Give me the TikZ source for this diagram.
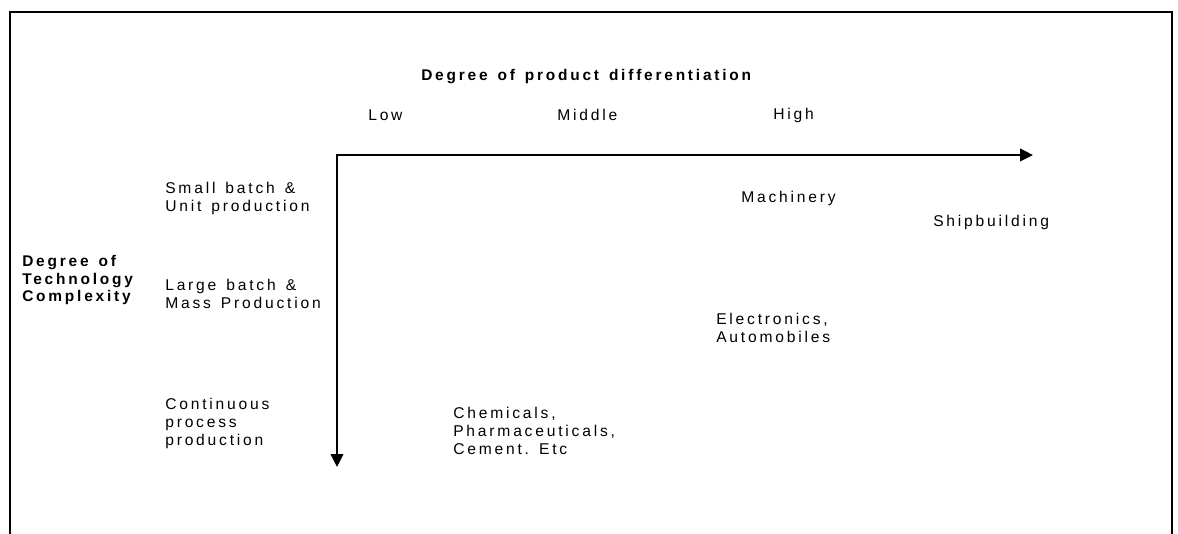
\documentclass[tikz,border=0pt]{standalone}
\usepackage{fontspec}
\setmainfont{Liberation Sans}
\newfontfamily\trackedfont[LetterSpace=18,WordSpace=1.4]{Liberation Sans}
\frenchspacing
\usetikzlibrary{arrows.meta}

\tikzset{
  lbl/.style={anchor=west,inner sep=0pt,align=left,font=\trackedfont\fontsize{11.7}{13.5}\selectfont},
  head/.style={anchor=west,inner sep=0pt,align=left,font=\trackedfont\bfseries\fontsize{11.6}{13.2}\selectfont},
  axis/.style={line width=1.3pt},
}

\begin{document}
\begin{tikzpicture}[x=0.75pt,y=-0.75pt,line cap=round,line join=round,>={Triangle[length=9.75pt,width=9.5pt]}]
    \useasboundingbox (0,0) rectangle (1178,533);
    % frame, open at the bottom
    \draw[line width=1.5pt,line cap=butt,line join=miter] (10,12) rectangle (1172,560);

    % axis titles and levels
    \node[head] (xtitle) at (421,77) {Degree of product differentiation};
    \node[lbl] (low) at (368,115) {Low};
    \node[lbl] (mid) at (557,115) {Middle};
    \node[lbl] (high) at (773,115) {High};
    \node[head] (ytitle) at (22,280) {Degree of\\Technology\\Complexity};
    \node[lbl] (small) at (165,198) {Small batch \&\\Unit production};
    \node[lbl] (large) at (165,294) {Large batch \&\\Mass Production};
    \node[lbl] (cont) at (165,423) {Continuous\\process\\production};

    % industries
    \node[lbl] (mach) at (741,198) {Machinery};
    \node[lbl] (ship) at (933,222) {Shipbuilding};
    \node[lbl] (elec) at (716,328) {Electronics,\\Automobiles};
    \node[lbl] (chem) at (453,431) {Chemicals,\\Pharmaceuticals,\\Cement. Etc};

    % axes
    \coordinate (origin) at (337,155);
    \coordinate (xend) at (1033,155);
    \coordinate (yend) at (337,467);
    \draw[axis,<->,line join=miter] (yend) -- (origin) -- (xend);
  \end{tikzpicture}
\end{document}
